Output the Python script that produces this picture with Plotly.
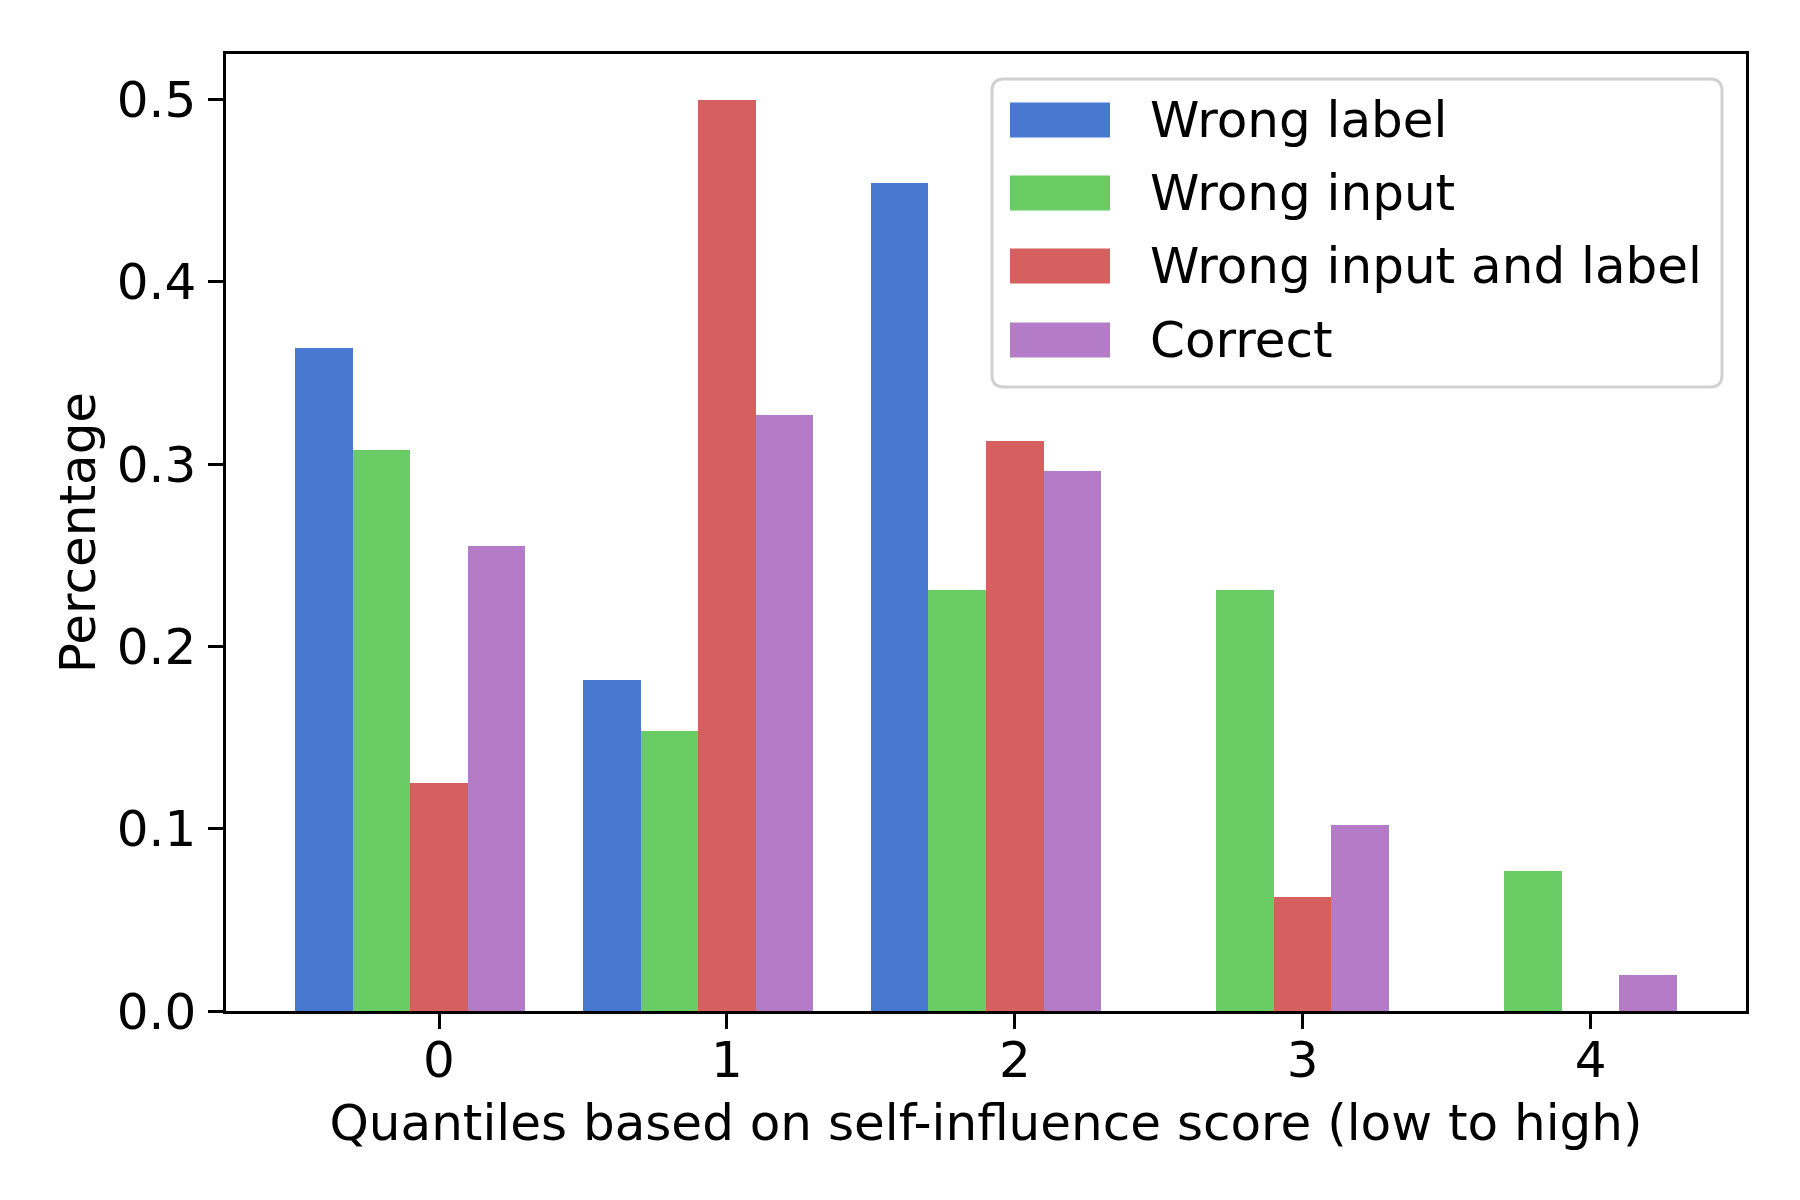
import plotly.graph_objects as go

quantiles = [0, 1, 2, 3, 4]
series_names = ["Wrong label", "Wrong input", "Wrong input and label", "Correct"]
wrong_label = [0.3636, 0.1818, 0.4545, 0.0, 0.0]
wrong_input = [0.3077, 0.1538, 0.2308, 0.2308, 0.0769]
wrong_input_and_label = [0.125, 0.5, 0.3125, 0.0625, 0.0]
correct = [0.255, 0.327, 0.296, 0.102, 0.020]
colors = ["#4878CF", "#6ACC65", "#D65F5F", "#B47CC7"]

series = [wrong_label, wrong_input, wrong_input_and_label, correct]

W, H = 1800, 1200
L, R, T, B = 218, 1738, 46, 1003  # plot area in pixels
FONT = dict(family="DejaVu Sans", size=50, color="black")


def px_x(p):
    return (p - L) / (R - L)


def px_y(p):
    return (B - p) / (B - T)


fig = go.Figure()

for i, (name, vals) in enumerate(zip(series_names, series)):
    fig.add_trace(go.Bar(
        x=quantiles, y=vals, name=name,
        width=0.2, offset=-0.5 + 0.2 * i,
        marker=dict(color=colors[i], line=dict(width=0)),
        showlegend=False,
    ))

# matplotlib-style legend drawn with shapes and text
bx0, bx1, by0, by1, r = 984, 1714, 71, 379, 12
path = (f"M {px_x(bx0 + r)},{px_y(by0)} L {px_x(bx1 - r)},{px_y(by0)} "
        f"Q {px_x(bx1)},{px_y(by0)} {px_x(bx1)},{px_y(by0 + r)} "
        f"L {px_x(bx1)},{px_y(by1 - r)} Q {px_x(bx1)},{px_y(by1)} {px_x(bx1 - r)},{px_y(by1)} "
        f"L {px_x(bx0 + r)},{px_y(by1)} Q {px_x(bx0)},{px_y(by1)} {px_x(bx0)},{px_y(by1 - r)} "
        f"L {px_x(bx0)},{px_y(by0 + r)} Q {px_x(bx0)},{px_y(by0)} {px_x(bx0 + r)},{px_y(by0)} Z")
fig.add_shape(type="path", path=path, xref="paper", yref="paper",
              fillcolor="rgba(255,255,255,0.8)", line=dict(color="#d0d0d0", width=3))

row_y = [112, 185, 258, 332]
for i, name in enumerate(series_names):
    cy = row_y[i]
    fig.add_shape(type="rect", xref="paper", yref="paper",
                  x0=px_x(1002), x1=px_x(1102), y0=px_y(cy - 17.5), y1=px_y(cy + 17.5),
                  fillcolor=colors[i], line=dict(width=0))
    fig.add_annotation(x=px_x(1140), y=px_y(cy), xref="paper", yref="paper",
                       text=name, showarrow=False, xanchor="left", yanchor="middle",
                       font=FONT)

axis_common = dict(
    showline=True, linecolor="black", linewidth=3.3, mirror=True,
    ticks="outside", ticklen=14.6, tickwidth=3.3, tickcolor="black",
    showgrid=False, zeroline=False, tickfont=FONT,
)

fig.update_xaxes(
    range=[-0.74, 4.54], tickvals=quantiles, ticktext=[str(q) for q in quantiles],
    ticklabelstandoff=-12,
    title=dict(text="Quantiles based on self-influence score (low to high)", font=FONT, standoff=18),
    **axis_common,
)
fig.update_yaxes(
    range=[0, 0.525], tickvals=[0, 0.1, 0.2, 0.3, 0.4, 0.5], tickformat=".1f",
    ticklabelstandoff=2,
    title=dict(text="Percentage", font=FONT, standoff=6),
    **axis_common,
)

fig.update_layout(
    width=W, height=H,
    barmode="overlay", bargap=0,
    margin=dict(l=L, r=W - R, t=T, b=H - B),
    plot_bgcolor="white", paper_bgcolor="white",
    font=FONT,
)

fig.write_html("out.html")
